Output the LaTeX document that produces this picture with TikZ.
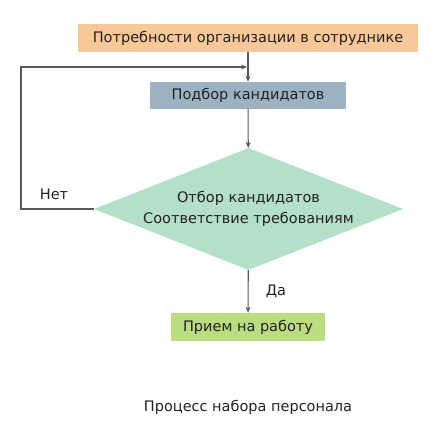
\documentclass[tikz,border=0pt]{standalone}
\usepackage{fontspec}
\setmainfont{DejaVu Sans}
\usetikzlibrary{shapes.geometric,arrows.meta}
\definecolor{needcol}{HTML}{F8C898}
\definecolor{pickcol}{HTML}{9CB2C2}
\definecolor{choicecol}{HTML}{B4DFC8}
\definecolor{hirecol}{HTML}{BCDC80}
\definecolor{linecol}{HTML}{5A5A5A}
\definecolor{textcol}{HTML}{222222}

\begin{document}
\begin{tikzpicture}[x=1pt,y=-1pt,font=\fontsize{14.5}{21}\selectfont,text=textcol]
\useasboundingbox (0,0) rectangle (446,441);
\begin{scope}[every node/.style={inner sep=0pt,minimum height=28pt}]
    \node (need)[fill=needcol,minimum width=340pt] at (248,38) {Потребности организации в сотруднике};
    \node (pick)[fill=pickcol,minimum width=196pt,minimum height=27pt] at (248,95.5) {Подбор кандидатов};
    \node (choice)[diamond,aspect=2.5,fill=choicecol,minimum width=309pt,minimum height=122pt,align=center] at (248.5,209) {Отбор кандидатов\\Соответствие требованиям};
    \node (hire)[fill=hirecol,minimum width=154pt] at (248,327) {Прием на работу};
    \node (no) at (54,194) {Нет};
    \node (yes) at (276,291) {Да};
    \node (title) at (248,407) {Процесс набора персонала};
\end{scope}

\coordinate (join) at (248,67);
\coordinate (turn) at (21,209);

\begin{scope}[every path/.style={draw=linecol,line width=1.1pt,-{Stealth[length=6pt,width=5pt]}}]
    \path (need) -- (pick);
    \path (pick) -- (choice);
    \path (choice) -- (hire);
    \path (choice.west) -- (turn) |- ([xshift=-1pt]join);
\end{scope}
\end{tikzpicture}
\end{document}
